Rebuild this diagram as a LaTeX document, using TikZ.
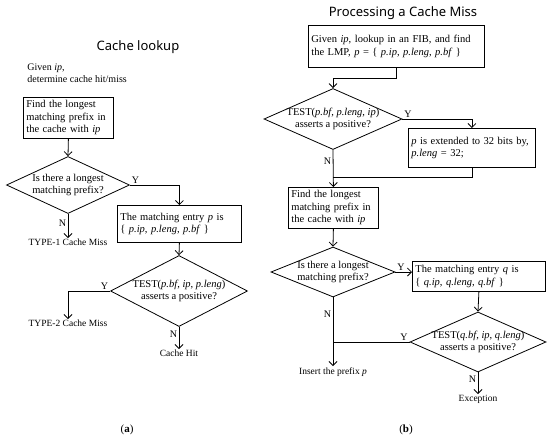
\documentclass[tikz,border=0pt]{standalone}
\usepackage{fontspec}
\setmainfont{Liberation Serif}
\newfontfamily\titlefont{Noto Sans}
\usetikzlibrary{shapes.geometric,arrows.meta}

\begin{document}
\begin{tikzpicture}[x=1pt,y=-1pt,line width=0.8pt,
  >={Straight Barb[length=4pt,width=8pt]},
  procbox/.style={draw,rectangle,align=left,inner sep=3pt,font=\fontsize{10.5}{12.5}\selectfont},
  decision/.style={draw,diamond,aspect=2.2,align=center,inner sep=-6pt,font=\fontsize{10.5}{12.5}\selectfont},
  endtext/.style={inner sep=1pt,anchor=north,font=\fontsize{9.5}{11}\selectfont},
  yn/.style={inner sep=1.5pt,font=\fontsize{10}{12}\selectfont},
  headline/.style={font=\titlefont\fontsize{13}{15}\selectfont}]
\useasboundingbox (0,0) rectangle (550,442);

% (a) cache lookup
\node[headline] (titleA) at (138,47) {Cache lookup};
\node[anchor=north west,align=left,inner sep=0pt,font=\fontsize{10}{12.5}\selectfont] (givenA) at (27,63)
  {Given \textit{ip},\\ determine cache hit/miss};

\node[procbox,anchor=north west,text width=84pt,minimum height=41pt] (findA) at (23,97)
  {Find the longest\\ matching prefix in\\ the cache with \textit{ip}};
\node[decision,minimum width=123pt,minimum height=57pt] (lpmA) at (68,185)
  {Is there a longest\\ matching prefix?};
\node[procbox,anchor=north west,text width=118pt,minimum height=37pt] (entA) at (117,205)
  {The matching entry \textit{p} is\\ \{ \textit{p.ip}, \textit{p.leng}, \textit{p.bf} \}};
\node[decision,minimum width=137pt,minimum height=71pt] (testA) at (179,291)
  {TEST(\textit{p.bf}, \textit{ip}, \textit{p.leng})\\ asserts a positive?};

\node[endtext] (miss1) at (68,238) {TYPE-1 Cache Miss};
\node[endtext] (miss2) at (68,319) {TYPE-2 Cache Miss};
\node[endtext] (hit) at (179,349) {Cache Hit};

\draw[->] (findA.south) -- (lpmA.north);
\draw[->] (lpmA.east) -| (entA.north) node[yn,pos=0,above right] {Y};
\draw[->] (lpmA.south) -- (miss1.north) node[yn,pos=0.4,left] {N};
\draw[->] (entA.south) -- (testA.north);
\draw[->] (testA.west) -| (miss2.north) node[yn,pos=0,above left] {Y};
\draw[->] (testA.south) -- (hit.north) node[yn,pos=0.35,left] {N};

\node[font=\fontsize{11}{13}\selectfont] (capA) at (127,430) {(\textbf{a})};

% (b) processing a cache miss
\node[headline] (titleB) at (403,13) {Processing a Cache Miss};

\node[procbox,anchor=north west,text width=170pt,minimum height=42pt] (fibB) at (308,25)
  {Given \textit{ip}, lookup in an FIB, and find\\ the LMP, \textit{p} = \{ \textit{p.ip}, \textit{p.leng}, \textit{p.bf} \}};
\node[decision,minimum width=138pt,minimum height=61pt] (testB) at (333,119)
  {TEST(\textit{p.bf}, \textit{p.leng}, \textit{ip})\\ asserts a positive?};
\node[procbox,anchor=north west,text width=121pt,minimum height=39pt] (extB) at (408,128)
  {\textit{p} is extended to 32 bits by,\\ \textit{p.leng} = 32;};
\node[procbox,anchor=north west,text width=84pt,minimum height=41pt] (findB) at (288,187)
  {Find the longest\\ matching prefix in\\ the cache with \textit{ip}};
\node[decision,minimum width=124pt,minimum height=50pt] (lpmB) at (333,272)
  {Is there a longest\\ matching prefix?};
\node[procbox,anchor=north west,text width=127pt,minimum height=30pt] (entB) at (412,261)
  {The matching entry \textit{q} is\\ \{ \textit{q.ip}, \textit{q.leng}, \textit{q.bf} \}};
\node[decision,minimum width=136pt,minimum height=60pt] (testC) at (478,342)
  {TEST(\textit{q.bf}, \textit{ip}, \textit{q.leng})\\ asserts a positive?};

\node[endtext] (ins) at (333,366) {Insert the prefix \textit{p}};
\node[endtext] (exc) at (478,394) {Exception};
\coordinate (mergeB) at (333,177);

\draw[->] (fibB.south) -- ++(0,11) -| (testB.north);
\draw[->] (testB.east) -| (extB.north) node[yn,pos=0,above right] {Y};
\draw (extB.south) |- (mergeB);
\draw[->] (testB.south) -- (findB.north) node[yn,pos=0.3,left] {N};
\draw[->] (findB.south) -- (lpmB.north);
\draw[->] (lpmB.east) -- (lpmB.east -| entB.west) node[yn,pos=0,above right] {Y};
\draw[->] (entB.south) -- (testC.north);
\draw[->] (lpmB.south) -- (ins.north) node[yn,pos=0.25,left] {N};
\draw (testC.west) -- (testC.west -| lpmB.south) node[yn,pos=0,above left] {Y};
\draw[->] (testC.south) -- (exc.north) node[yn,pos=0.3,left] {N};

\node[font=\fontsize{11}{13}\selectfont] (capB) at (406,430) {(\textbf{b})};
\end{tikzpicture}
\end{document}
